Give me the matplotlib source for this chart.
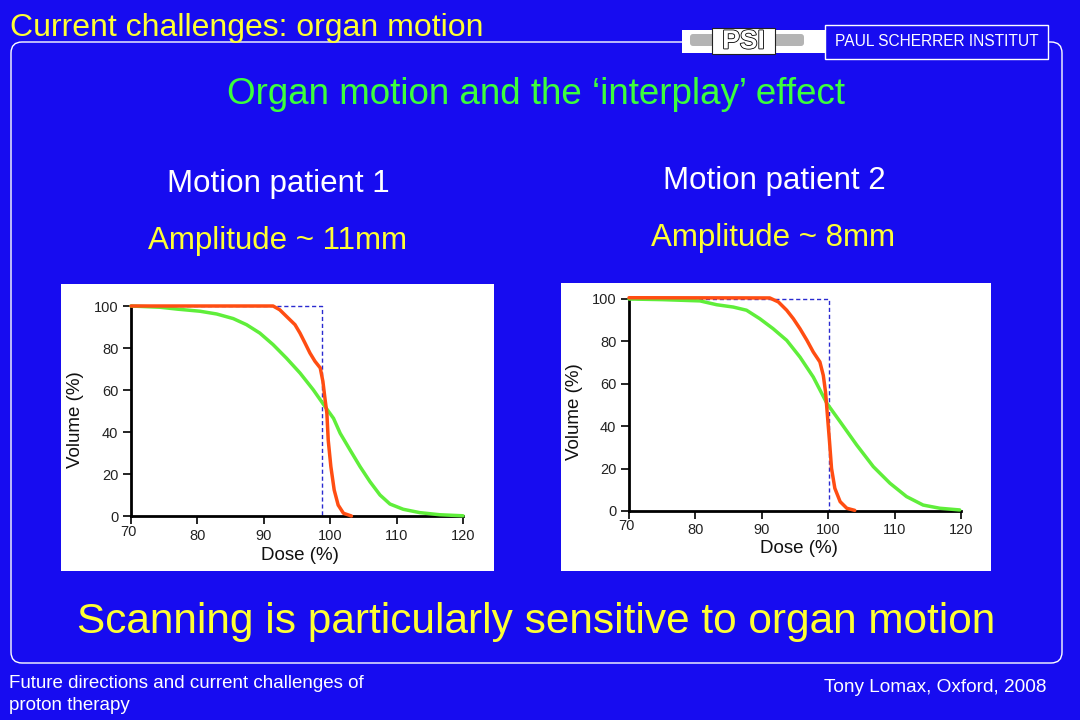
import matplotlib
matplotlib.use("Agg")
import matplotlib.pyplot as plt
from matplotlib.patches import Rectangle, FancyBboxPatch
from matplotlib.transforms import ScaledTranslation
import matplotlib.patheffects as pe

plt.rcParams['font.family'] = ['Liberation Sans', 'DejaVu Sans']

BLUE = '#170cf0'
YELLOW = '#ffff33'
GREEN_TXT = '#3cff3c'
RED = '#ff4d12'
GREEN = '#5fee3a'

# dose-volume histograms, patient 1
p1_red_dose = [70, 91.4, 92.4, 93.4, 94.7, 95.45, 96.2, 96.95, 97.7, 98.5, 98.9,
               99.2, 99.5, 99.7, 100.1, 100.6, 101.2, 102.0, 103.2]
p1_red_vol = [100, 100, 98.2, 95.1, 91.1, 87.1, 82.4, 77.6, 73.7, 70.5, 64.1,
              56.2, 48.9, 36.2, 23.5, 12.4, 5.2, 1.3, 0]
p1_green_dose = [70, 74.4, 77, 80.4, 82.9, 85.4, 87.4, 89.4, 91.4, 93.4, 95.45,
                 97.45, 99.2, 100.5, 101.5, 103, 104.5, 106, 107.5, 109, 111,
                 113.5, 116.5, 120]
p1_green_vol = [100, 99.4, 98.5, 97.5, 96.2, 94, 91.1, 87.1, 81.6, 75.2, 68.1,
                60.1, 52.2, 46.5, 39.4, 31.4, 23.5, 16.3, 10, 5.7, 3.2,
                1.6, 0.6, 0.1]
p1_ideal_dose = [70, 98.8, 98.8]
p1_ideal_vol = [100, 100, 0]

# patient 2
p2_red_dose = [70, 91.2, 92.5, 93.75, 94.75, 95.75, 96.8, 97.75, 98.75, 99.26,
               99.6, 99.8, 100.2, 100.5, 101.0, 101.8, 102.8, 104]
p2_red_vol = [100.6, 100.5, 98.6, 94.7, 90.7, 86, 80.5, 75, 70.3, 64,
              56.1, 48.4, 32.7, 20.1, 10.7, 4.4, 1.3, 0.3]
p2_green_dose = [70, 75, 80.7, 83.2, 85.7, 87.7, 89.7, 91.7, 93.75, 95.75, 97.75,
                 99.8, 101.8, 104.3, 106.8, 109.3, 111.8, 114.3, 116.8, 119.8]
p2_green_vol = [100, 99.7, 99.1, 97.3, 96.2, 94.7, 90.7, 86, 80.5, 72.6, 63.2,
                50.8, 42.1, 31.1, 20.9, 13.1, 6.8, 2.8, 1.3, 0.5]
p2_ideal_dose = [70, 100.1, 100.1]
p2_ideal_vol = [100, 100, 0]

x_ticks = [70, 80, 90, 100, 110, 120]
y_ticks = [0, 20, 40, 60, 80, 100]

fig = plt.figure(figsize=(10.8, 7.2), dpi=100)
fig.patch.set_facecolor(BLUE)

# slide layer in pixel coordinates
bg = fig.add_axes([0, 0, 1, 1], zorder=0)
bg.set_xlim(0, 1080)
bg.set_ylim(720, 0)
bg.axis('off')
bg.set_facecolor(BLUE)

bg.add_patch(FancyBboxPatch((11, 42), 1051, 621, boxstyle='round,pad=0,rounding_size=11',
                            fc='none', ec='white', lw=1.0))
# PSI logo
bg.add_patch(Rectangle((682, 30), 144, 23, fc='white', ec='none'))
bg.add_patch(FancyBboxPatch((690, 34), 114, 12, boxstyle='round,pad=0,rounding_size=3',
                            fc='#b4b4b4', ec='none'))
bg.add_patch(Rectangle((712, 28), 63, 26, fc='white', ec='#222222', lw=0.8))
bg.text(743.5, 41.5, 'PSI', color='white', fontsize=19, fontweight='bold',
        ha='center', va='center',
        path_effects=[pe.Stroke(linewidth=1.2, foreground='black'), pe.Normal()])
bg.add_patch(Rectangle((825, 25), 223, 34, fc=BLUE, ec='white', lw=1.0))
bg.text(936.5, 41.5, 'PAUL SCHERRER INSTITUT', color='white', fontsize=11.2,
        ha='center', va='center')

bg.text(10, 36, 'Current challenges: organ motion', color=YELLOW, fontsize=23,
        ha='left', va='baseline')
bg.text(536, 94, 'Organ motion and the \u2018interplay\u2019 effect', color=GREEN_TXT,
        fontsize=26.5, ha='center', va='center')
bg.text(278, 184, 'Motion patient 1', color='white', fontsize=22.5, ha='center', va='center')
bg.text(278, 241, 'Amplitude ~ 11mm', color=YELLOW, fontsize=22.5, ha='center', va='center')
bg.text(774, 181, 'Motion patient 2', color='white', fontsize=22.5, ha='center', va='center')
bg.text(773, 238, 'Amplitude ~ 8mm', color=YELLOW, fontsize=22.5, ha='center', va='center')
bg.text(536, 622, 'Scanning is particularly sensitive to organ motion', color=YELLOW,
        fontsize=30.5, ha='center', va='center')
bg.text(9, 683, 'Future directions and current challenges of', color='white',
        fontsize=13.5, ha='left', va='center')
bg.text(9, 706, 'proton therapy', color='white', fontsize=13.5, ha='left', va='center')
bg.text(1046, 688, 'Tony Lomax, Oxford, 2008', color='white', fontsize=13.7,
        ha='right', va='center')

# white chart panels
bg.add_patch(Rectangle((61, 284), 433, 287, fc='white', ec='none'))
bg.add_patch(Rectangle((561, 283), 430, 288, fc='white', ec='none'))


def dvh(rect, red, green, ideal, xlab, ylab, first_shift):
    ax = fig.add_axes(rect, zorder=2)
    ax.patch.set_alpha(0)
    ax.plot(ideal[0], ideal[1], color='#2a2ad0', lw=1.0, ls=(0, (3, 2)), clip_on=False, zorder=2)
    ax.plot(green[0], green[1], color=GREEN, lw=2.5, clip_on=False, zorder=3,
            solid_joinstyle='round', solid_capstyle='round')
    ax.plot(red[0], red[1], color=RED, lw=2.5, clip_on=False, zorder=4,
            solid_joinstyle='round', solid_capstyle='round')
    ax.set_xlim(70, 120)
    ax.set_ylim(0, 100)
    ax.set_xticks(x_ticks)
    ax.set_yticks(y_ticks)
    for s in ['top', 'right']:
        ax.spines[s].set_visible(False)
    for s in ['left', 'bottom']:
        ax.spines[s].set_linewidth(2)
        ax.spines[s].set_color('black')
    ax.tick_params(direction='out', length=6, width=1.2, labelsize=10.5,
                   labelcolor='#222222', pad=3)
    ax.set_xlabel('Dose (%)', fontsize=13.5, color='#111111', va='center')
    ax.set_ylabel('Volume (%)', fontsize=13.5, color='#111111', va='center')
    ax.xaxis.set_label_coords(xlab[0], xlab[1])
    ax.yaxis.set_label_coords(ylab[0], ylab[1])
    lab = ax.get_xticklabels()[0]
    lab.set_transform(lab.get_transform() + ScaledTranslation(-3 / 100, first_shift / 100,
                                                              fig.dpi_scale_trans))
    return ax


dvh([131 / 1080, 204 / 720, 332 / 1080, 210 / 720],
    (p1_red_dose, p1_red_vol), (p1_green_dose, p1_green_vol),
    (p1_ideal_dose, p1_ideal_vol), (0.509, -0.186), (-0.166, 0.46), 4)
dvh([629 / 1080, 209 / 720, 332 / 1080, 212 / 720],
    (p2_red_dose, p2_red_vol), (p2_green_dose, p2_green_vol),
    (p2_ideal_dose, p2_ideal_vol), (0.512, -0.179), (-0.163, 0.467), 4)

fig.savefig('out.png', dpi=100, facecolor=BLUE)
